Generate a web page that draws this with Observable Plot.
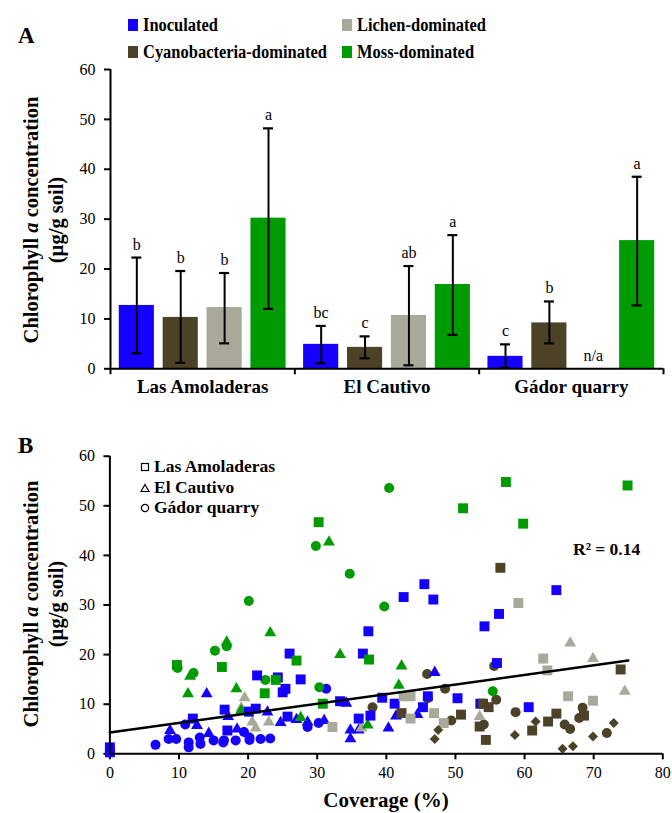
<!DOCTYPE html>
<html><head><meta charset="utf-8">
<script src="https://cdn.jsdelivr.net/npm/d3@7"></script>
<script src="https://cdn.jsdelivr.net/npm/@observablehq/plot@0.6"></script>
<style>
body{margin:0;background:#fff;}
#wrap{position:relative;width:672px;height:813px;font-family:"Liberation Serif","Times New Roman",serif;color:#000;overflow:hidden;background:#fff}
.abs{position:absolute;white-space:nowrap;line-height:1;z-index:2}
.rot{position:absolute;white-space:nowrap;line-height:1;transform:translate(-50%,-50%) rotate(-90deg);font-weight:bold;font-size:20.5px;z-index:2}
.pl{position:absolute;left:0;z-index:1}
.pl g[aria-label="x-axis"] line,.pl g[aria-label="y-axis"] line,
.pl g[aria-label="x-axis tick"] path,.pl g[aria-label="y-axis tick"] path{stroke-width:2px}
</style>
</head><body>
<div id="wrap"></div>
<script>
// ---------- data ----------
const sites = ["Las Amoladeras", "El Cautivo", "Gádor quarry"];
const types = ["Inoculated", "Cyanobacteria-dominated", "Lichen-dominated", "Moss-dominated"];
const colors = ["#1500ff", "#4b4227", "#a8a999", "#009b00"];

// Panel A: mean chlorophyll a, error bar low/high, significance letters (order = types)
const meanLA = [12.7, 10.3, 12.3, 30.2];
const lowLA = [3.1, 1.2, 5.1, 12.0];
const highLA = [22.3, 19.6, 19.2, 48.2];
const letterLA = ["b", "b", "b", "a"];
const meanEC = [4.9, 4.3, 10.7, 16.9];
const lowEC = [1.1, 2.1, 0.7, 6.8];
const highEC = [8.6, 6.5, 20.6, 26.8];
const letterEC = ["bc", "c", "ab", "a"];
const meanGQ = [2.5, 9.2, null, 25.7];
const lowGQ = [0.2, 5.1, null, 12.7];
const highGQ = [4.9, 13.5, null, 38.5];
const letterGQ = ["c", "b", "n/a", "a"];
const yTicksA = [0, 10, 20, 30, 40, 50, 60];

// Panel B: [coverage %, chlorophyll a] per site (shape) and crust type (colour)
const laInoculated = [[0,1.3],[0,0.3],[12.0,7.1],[16.6,8.9],[17.0,4.7],[20.1,8.5],[21.1,9.1],[21.3,15.8],[24.3,15.4],[25.0,12.4],[25.4,13.1],[25.7,7.5],[26.0,20.2],[27.6,15.0],[33.3,10.6],[36.0,7.1],[36.6,20.2],[37.4,24.7],[37.7,7.7],[39.4,11.3],[41.2,10.1],[42.5,31.6],[45.3,9.4],[45.5,34.2],[46.0,11.6],[46.8,31.1],[50.3,11.2],[53.6,10.1],[54.2,25.7],[56.0,18.3],[56.3,28.2],[60.6,9.4],[64.6,33.0]];
const laCyano = [[42.2,8.2],[50.8,7.9],[53.5,5.5],[54.0,10.1],[54.4,2.8],[54.8,9.4],[56.5,37.5],[61.1,4.7],[63.4,6.5],[64.6,8.1],[68.6,7.7],[73.9,17.0]];
const laLichen = [[32.2,5.4],[42.5,11.6],[43.5,11.6],[43.5,7.1],[46.9,8.2],[48.3,6.2],[59.1,30.4],[62.7,19.2],[63.3,16.8],[66.3,11.6],[69.9,10.7]];
const laMoss = [[9.7,17.9],[16.2,17.5],[22.4,12.2],[24.0,14.9],[27.0,18.8],[30.2,46.7],[30.8,10.1],[37.5,19.0],[51.1,49.5],[57.3,54.8],[59.8,46.4],[74.9,54.1]];
const ecInoculated = [[8.7,4.7],[12.6,5.7],[14.0,12.1],[14.3,4.1],[17.1,7.5],[18.4,5.0],[22.8,8.4],[24.7,6.3],[27.0,6.9],[28.6,6.4],[31.0,6.7],[34.2,10.2],[34.8,4.8],[34.8,3.0],[36.0,4.8],[40.3,5.2],[41.4,7.6],[44.5,7.9],[47.0,16.4]];
const ecLichen = [[19.0,9.2],[19.5,11.3],[20.6,6.4],[21.1,5.2],[23.0,6.4],[36.4,5.2],[53.5,7.5],[66.6,22.3],[69.9,19.2],[74.5,12.6]];
const ecMoss = [[11.3,12.1],[11.6,15.6],[16.9,22.5],[18.3,13.1],[19.0,8.7],[23.2,24.4],[27.6,7.3],[31.7,42.7],[33.3,20.0],[37.3,5.8],[41.8,13.8],[42.2,17.7]];
const gqInoculated = [[6.6,1.8],[8.5,3.0],[9.6,3.0],[10.9,5.9],[11.4,1.3],[11.4,2.3],[13.0,3.3],[13.1,2.0],[15.0,2.7],[16.4,2.3],[16.5,2.7],[18.2,2.7],[19.4,4.4],[20.2,3.3],[20.2,2.8],[21.8,3.0],[23.2,3.1],[28.6,5.4],[30.2,6.2],[31.3,13.1]];
const gqCyano = [[38.0,9.4],[45.9,16.1],[46.0,11.2],[48.5,13.1],[49.4,6.7],[54.1,5.9],[55.6,17.7],[55.9,10.9],[58.7,8.4],[65.8,5.9],[66.6,5.0],[67.9,7.2],[68.4,9.3],[71.9,4.2]];
const gqMoss = [[9.8,17.3],[12.1,16.3],[15.2,20.8],[16.9,21.7],[20.1,30.8],[22.5,14.9],[29.8,41.9],[30.3,13.4],[34.7,36.3],[39.7,29.7],[40.4,53.6],[55.4,12.6]];
const diamondCyano = [[47.0,3.0],[47.5,4.8],[58.6,3.8],[61.6,6.5],[65.5,1.0],[67.0,1.5],[69.9,3.5],[72.9,6.2]];
const trendX = [0, 75];
const trendY = [4.3, 18.8];
const xTicksB = [0, 10, 20, 30, 40, 50, 60, 70, 80];
const yTicksB = [0, 10, 20, 30, 40, 50, 60];
const rSquared = "R² = 0.14";

// ---------- helpers ----------
const wrap = document.getElementById("wrap");
const W = 672;
const FONT = "Liberation Serif, Times New Roman, serif";
function label(html, left, cy, css) {
  const d = document.createElement("div");
  d.className = "abs";
  d.innerHTML = html;
  d.style.left = left + "px";
  d.style.top = cy + "px";
  d.style.transform = "translateY(-50%)";
  d.style.transformOrigin = "0 50%";
  Object.assign(d.style, css || {});
  wrap.appendChild(d);
  return d;
}
function rotLabel(html, cx, cy) {
  const d = document.createElement("div");
  d.className = "rot";
  d.innerHTML = html;
  d.style.left = cx + "px";
  d.style.top = cy + "px";
  wrap.appendChild(d);
}

// ---------- Panel A ----------
const meanA = [meanLA, meanEC, meanGQ], lowA = [lowLA, lowEC, lowGQ], highA = [highLA, highEC, highGQ], letA = [letterLA, letterEC, letterGQ];
const bars = [];
sites.forEach((s, si) => types.forEach((t, ti) => bars.push({
  site: s, type: t, value: meanA[si][ti], low: lowA[si][ti], high: highA[si][ti], letter: letA[si][ti]
})));

const mA = {top: 69, bottom: 41.7, left: 110, right: 9};
const hA = 410;
const facetW = (W - mA.left - mA.right) / sites.length;
const xPad = 0.2;
const step = facetW / (types.length - xPad + 2 * xPad);
const bw = step * (1 - xPad);
const edge = step * xPad + bw / 2;
const capInset = (bw - 10) / 2;

const plotA = Plot.plot({
  width: W, height: hA,
  marginTop: mA.top, marginBottom: mA.bottom, marginLeft: mA.left, marginRight: mA.right,
  style: {fontFamily: FONT, fontSize: "16px", background: "transparent", color: "black", overflow: "visible"},
  facet: {data: bars, x: "site"},
  fx: {domain: sites, padding: 0, round: false, axis: null, label: null},
  x: {domain: types, padding: xPad, round: false, axis: null, label: null},
  y: {domain: [0, 60], ticks: yTicksA, tickSize: 6, tickPadding: 9, label: null},
  color: {domain: types, range: colors},
  marks: [
    Plot.barY(bars, {x: "type", y: "value", fill: "type"}),
    Plot.ruleX(bars, {x: "type", y1: "low", y2: "high", strokeWidth: 2}),
    Plot.tickY(bars, {x: "type", y: "low", strokeWidth: 2.2, insetLeft: capInset, insetRight: capInset}),
    Plot.tickY(bars, {x: "type", y: "high", strokeWidth: 2.2, insetLeft: capInset, insetRight: capInset}),
    Plot.text(bars, {x: "type", y: d => d.high ?? 0, text: "letter", lineAnchor: "bottom", dy: -8, fontSize: 16}),
    Plot.ruleY([0], {strokeWidth: 2}),
    Plot.ruleX(bars, {filter: d => d.site === sites[0] && d.type === types[0], x: "type", dx: -edge, y1: () => 60, y2: () => 0, insetBottom: -6, strokeWidth: 2}),
    Plot.ruleX(bars, {filter: d => d.site !== sites[0] && d.type === types[0], x: "type", dx: -edge, y1: () => 0, y2: () => 0, insetBottom: -6, strokeWidth: 2}),
    Plot.ruleX(bars, {filter: d => d.site === sites[sites.length - 1] && d.type === types[types.length - 1], x: "type", dx: edge, y1: () => 0, y2: () => 0, insetBottom: -6, strokeWidth: 2}),
    Plot.text(bars, {filter: d => d.type === types[0], text: "site", frameAnchor: "bottom", dy: 24, fontWeight: "bold", fontSize: 19})
  ]
});
const divA = document.createElement("div");
divA.className = "pl"; divA.style.top = "0px";
divA.appendChild(plotA);
wrap.appendChild(divA);

// ---------- Panel B ----------
const rows = [];
function add(arr, site, type) { arr.forEach(([x, y]) => rows.push({x, y, site, type})); }
add(laInoculated, "LA", types[0]); add(laCyano, "LA", types[1]); add(laLichen, "LA", types[2]); add(laMoss, "LA", types[3]);
add(ecInoculated, "EC", types[0]); add(ecLichen, "EC", types[2]); add(ecMoss, "EC", types[3]);
add(gqInoculated, "GQ", types[0]); add(gqCyano, "GQ", types[1]); add(gqMoss, "GQ", types[3]);
add(diamondCyano, "D", types[1]);
const trend = trendX.map((x, i) => ({x, y: trendY[i]}));

const topB = 420, hB = 393;
const plotB = Plot.plot({
  width: W, height: hB,
  marginTop: 35.7, marginBottom: 59.7, marginLeft: 109.4, marginRight: 9.7,
  style: {fontFamily: FONT, fontSize: "16px", background: "transparent", color: "black", overflow: "visible"},
  x: {domain: [0, 80], ticks: xTicksB, tickSize: 6, tickPadding: 7, label: null},
  y: {domain: [0, 60], ticks: yTicksB, tickSize: 6, tickPadding: 9, label: null},
  color: {domain: types, range: colors},
  marks: [
    Plot.dot(rows, {filter: d => d.site === "GQ", x: "x", y: "y", fill: "type", symbol: "circle", r: 5}),
    Plot.dot(rows, {filter: d => d.site === "EC", x: "x", y: "y", fill: "type", symbol: "triangle", r: 4.4}),
    Plot.dot(rows, {filter: d => d.site === "LA", x: "x", y: "y", fill: "type", symbol: "square", r: 5.6}),
    Plot.dot(rows, {filter: d => d.site === "D", x: "x", y: "y", fill: "type", symbol: "diamond2", r: 4.5}),
    Plot.line(trend, {x: "x", y: "y", stroke: "black", strokeWidth: 2.5}),
    Plot.ruleX([0], {strokeWidth: 2}),
    Plot.ruleY([0], {strokeWidth: 2})
  ]
});
const divB = document.createElement("div");
divB.className = "pl"; divB.style.top = topB + "px";
divB.appendChild(plotB);
wrap.appendChild(divB);

// ---------- text overlays ----------
label("A", 18, 35, {fontWeight: "bold", fontSize: "23px"});
label("B", 18, 445, {fontWeight: "bold", fontSize: "23px"});
// legend A
const legPos = [[128, 24.5], [128, 52], [342, 24.5], [342, 52]];
[0, 1, 2, 3].forEach(i => {
  const [lx, ly] = legPos[i];
  const sw = document.createElement("div");
  sw.className = "abs";
  Object.assign(sw.style, {left: lx + "px", top: (ly - 6) + "px", width: "10px", height: "12px", background: colors[i]});
  wrap.appendChild(sw);
  label(types[i], lx + 15, ly, {fontWeight: "bold", fontSize: "18.5px", transform: "translateY(-50%) scaleX(0.89)"});
});
// axis titles
const yTitle1 = "Chlorophyll <i>a</i> concentration";
const yTitle2 = "(µg/g soil)";
rotLabel(yTitle1, 31, 220); rotLabel(yTitle2, 56, 220);
rotLabel(yTitle1, 31, 604); rotLabel(yTitle2, 56, 604);
label("Coverage (%)", 386, 800, {fontWeight: "bold", fontSize: "21px", transform: "translate(-50%,-50%)"});
// legend B
const legB = [["Las Amoladeras", "square"], ["El Cautivo", "triangle"], ["Gádor quarry", "circle"]];
const shapeSvg = {
  square: '<rect x="1.5" y="1.5" width="7" height="7" fill="none" stroke="black" stroke-width="1.2"/>',
  triangle: '<path d="M5 1.5 L9 8.5 L1 8.5 Z" fill="none" stroke="black" stroke-width="1.2"/>',
  circle: '<circle cx="5" cy="5" r="3.6" fill="none" stroke="black" stroke-width="1.2"/>'
};
legB.forEach(([name, shp], i) => {
  const cy = 467 + i * 20.7;
  label('<svg width="10" height="10" style="display:block">' + shapeSvg[shp] + '</svg>', 139.5, cy);
  label(name, 154, cy, {fontWeight: "bold", fontSize: "17.5px"});
});
label(rSquared, 573, 550, {fontWeight: "bold", fontSize: "17.5px"});
</script>
</body></html>
